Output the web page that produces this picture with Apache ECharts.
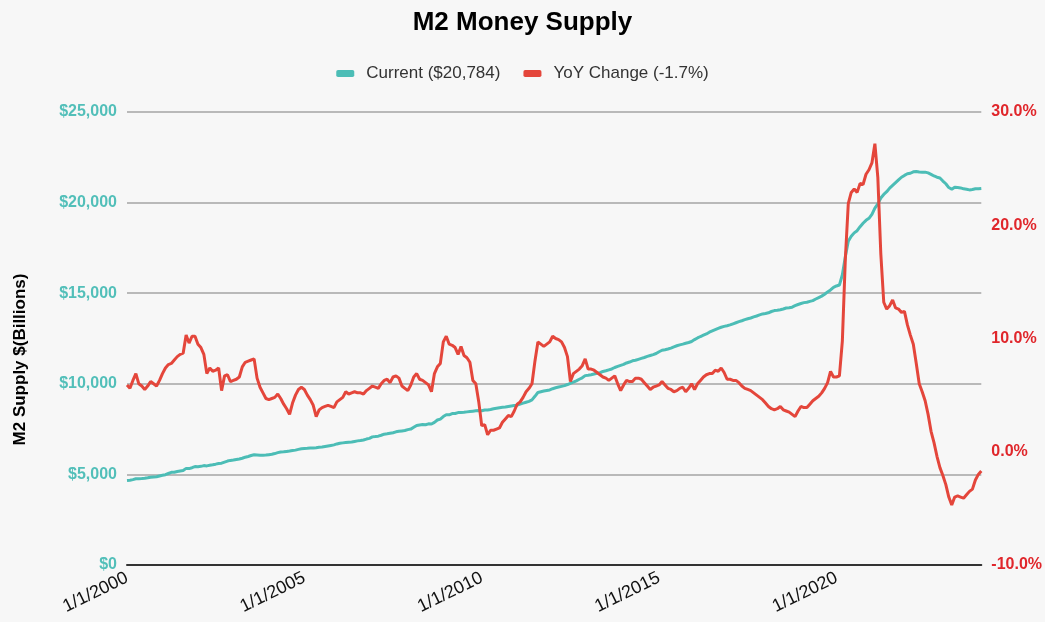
<!DOCTYPE html>
<html>
<head>
<meta charset="utf-8">
<script src="https://cdn.jsdelivr.net/npm/echarts@6/dist/echarts.min.js"></script>
<style>
html,body{margin:0;padding:0;background:#f7f7f7;}
#chart{width:1045px;height:622px;}
</style>
</head>
<body>
<div id="chart"></div>
<script>
// Monthly, Jan 2000 .. Feb 2024
const startYear = 2000;
const pointCount = 290;
const xTickLabels = ["1/1/2000","1/1/2005","1/1/2010","1/1/2015","1/1/2020"];

// M2 money supply, $ billions
const m2Supply = [
  4667,4681,4711,4760,4755,4769,4787,4814,4844,4861,4872,4914,
  4950,4985,5049,5113,5121,5163,5192,5220,5332,5322,5370,5433,
  5425,5445,5485,5470,5500,5530,5565,5605,5620,5680,5735,5772,
  5790,5820,5850,5890,5950,5990,6040,6080,6070,6060,6060,6067,
  6090,6110,6150,6200,6240,6250,6270,6290,6320,6340,6380,6418,
  6430,6440,6460,6460,6470,6500,6510,6540,6570,6600,6630,6681,
  6720,6740,6760,6780,6790,6820,6850,6870,6900,6950,6990,7071,
  7090,7110,7160,7220,7240,7270,7300,7350,7380,7400,7420,7471,
  7500,7600,7700,7730,7750,7740,7790,7780,7870,8000,8050,8192,
  8290,8290,8360,8360,8410,8420,8430,8450,8470,8490,8510,8520,
  8510,8550,8560,8580,8620,8650,8680,8700,8720,8750,8780,8801,
  8820,8880,8930,8980,9030,9110,9310,9520,9560,9600,9630,9660,
  9730,9780,9820,9860,9900,9960,10030,10090,10160,10250,10330,10451,
  10470,10500,10540,10580,10610,10680,10720,10770,10820,10900,10960,11019,
  11070,11150,11200,11270,11300,11350,11400,11450,11510,11560,11610,11671,
  11770,11850,11880,11920,11970,12040,12100,12150,12190,12240,12280,12336,
  12440,12530,12610,12680,12750,12850,12920,12990,13060,13120,13170,13207,
  13250,13310,13370,13430,13480,13540,13590,13630,13690,13740,13800,13856,
  13880,13920,13990,14040,14060,14090,14130,14180,14200,14230,14310,14377,
  14430,14480,14500,14550,14590,14680,14760,14840,14940,15070,15180,15327,
  15400,15450,16020,17010,17870,18140,18330,18450,18670,18860,19020,19130,
  19350,19700,19930,20250,20450,20600,20800,20950,21100,21250,21400,21500,
  21590,21620,21700,21720,21690,21680,21680,21640,21560,21470,21400,21360,
  21190,21040,20830,20740,20850,20830,20810,20760,20740,20700,20720,20760,
  20770,20784
];

// Year-over-year change, %
const yoyChange = [
  5.9,5.6,6.3,6.9,6.0,5.8,5.5,5.8,6.2,6.0,5.8,6.3,
  6.9,7.4,7.7,7.8,8.1,8.4,8.6,8.7,10.3,9.6,10.2,10.2,
  9.5,9.2,8.6,6.9,7.4,7.1,7.2,7.4,5.4,6.7,6.8,6.2,
  6.3,6.4,6.6,7.5,7.9,8.0,8.1,8.2,6.5,5.7,5.2,4.7,
  4.6,4.7,4.8,5.1,4.7,4.2,3.8,3.3,4.3,5.0,5.5,5.7,
  5.5,5.0,4.6,4.1,3.1,3.7,3.9,4.0,4.1,4.0,3.9,4.4,
  4.6,4.8,5.3,5.1,5.2,5.3,5.2,5.2,5.1,5.4,5.6,5.8,
  5.7,5.6,6.0,6.3,6.4,6.1,6.6,6.7,6.5,5.8,5.6,5.4,
  5.9,6.6,6.9,6.4,6.3,6.1,5.9,5.3,6.9,7.5,7.8,9.7,
  10.2,9.5,9.4,9.2,8.6,9.3,8.5,8.3,7.9,6.3,6.0,4.4,
  2.3,2.4,1.5,1.9,1.9,2.0,2.1,2.6,2.9,3.2,3.1,3.6,
  4.2,4.4,4.8,5.3,5.6,6.0,8.0,9.7,9.5,9.3,9.5,9.7,
  10.2,10.0,9.9,9.7,9.2,8.4,6.2,6.9,7.1,7.3,7.6,8.2,
  7.3,7.3,7.2,7.0,6.8,6.6,6.5,6.3,6.5,6.7,6.0,5.4,
  5.9,6.3,6.2,6.2,6.5,6.5,6.4,6.1,5.8,5.5,5.7,5.8,
  5.9,6.2,5.9,5.6,5.5,5.3,5.4,5.6,5.7,5.3,5.6,6.0,
  5.5,6.0,6.3,6.6,6.8,6.9,6.9,7.2,7.1,7.4,7.0,6.4,
  6.4,6.3,6.3,6.1,5.8,5.6,5.5,5.4,5.2,5.0,4.8,4.6,
  4.3,4.0,3.8,3.7,3.8,4.0,3.7,3.6,3.5,3.3,3.1,3.6,
  4.0,3.9,3.9,4.2,4.5,4.7,4.9,5.2,5.6,6.1,7.1,6.6,
  6.6,6.7,9.8,17.0,21.9,22.9,23.2,22.9,23.7,23.6,24.5,24.9,
  25.5,27.2,24.2,17.5,13.2,12.6,12.9,13.4,12.7,12.6,12.3,12.4,
  11.2,10.3,9.5,7.8,6.0,5.3,4.5,3.3,1.8,0.8,-0.4,-1.4,
  -2.1,-2.9,-4.0,-4.7,-4.0,-3.9,-4.0,-4.1,-3.8,-3.5,-3.3,-2.5,
  -2.0,-1.7
];

const months = [];
for (let i = 0; i < pointCount; i++) {
  const y = startYear + Math.floor(i / 12);
  const m = (i % 12) + 1;
  months.push(m + '/1/' + y);
}

function fmtMoney(v) {
  return '$' + String(Math.round(v)).replace(/\B(?=(\d{3})+(?!\d))/g, ',');
}

const FONT = 'Liberation Sans, Arial, sans-serif';
const TEAL = '#4cbdb6';
const RED = '#e4463b';
const lastM2 = m2Supply[m2Supply.length - 1];
const lastYoy = yoyChange[yoyChange.length - 1];
const nameCurrent = 'Current (' + fmtMoney(lastM2) + ')';
const nameYoy = 'YoY Change (' + lastYoy.toFixed(1) + '%)';

const chart = echarts.init(document.getElementById('chart'), null, {renderer: 'canvas'});
chart.setOption({
  backgroundColor: '#f7f7f7',
  animation: false,
  title: {
    text: 'M2 Money Supply',
    left: 'center',
    top: 5,
    textStyle: {fontFamily: FONT, fontSize: 26, fontWeight: 'bold', color: '#000'}
  },
  legend: {
    top: 60,
    left: 'center',
    itemWidth: 18,
    itemHeight: 7,
    itemGap: 23,
    icon: 'roundRect',
    textStyle: {fontFamily: FONT, fontSize: 17, color: '#333', padding: [0, 0, 0, 7]},
    data: [nameCurrent, nameYoy]
  },
  grid: {left: 127, right: 62, top: 112, bottom: 57, containLabel: false},
  xAxis: {
    type: 'category',
    data: months,
    boundaryGap: false,
    axisLine: {show: true, lineStyle: {color: '#333', width: 2}},
    axisTick: {show: false},
    axisLabel: {
      interval: 59,
      rotate: 26,
      margin: 12,
      fontFamily: FONT,
      fontSize: 18,
      color: '#111'
    },
    splitLine: {show: false}
  },
  yAxis: [
    {
      type: 'value',
      min: 0, max: 25000, interval: 5000,
      name: 'M2 Supply $(Billions)',
      nameLocation: 'middle',
      nameGap: 98,
      nameRotate: 90,
      nameTextStyle: {fontFamily: FONT, fontSize: 17, fontWeight: 'bold', color: '#000', padding: [0, 42, 0, 0]},
      axisLine: {show: false},
      axisTick: {show: false},
      axisLabel: {
        margin: 10,
        formatter: fmtMoney,
        fontFamily: FONT,
        fontSize: 16, fontWeight: 'bold', color: '#52bfb9'
      },
      splitLine: {show: true, lineStyle: {color: '#a5a5a5', width: 1.5}}
    },
    {
      type: 'value',
      min: -10, max: 30, interval: 10,
      position: 'right',
      axisLine: {show: false},
      axisTick: {show: false},
      axisLabel: {
        margin: 10,
        formatter: function (v) { return v.toFixed(1) + '%'; },
        fontFamily: FONT,
        fontSize: 16, fontWeight: 'bold', color: '#e0262b'
      },
      splitLine: {show: false}
    }
  ],
  series: [
    {
      name: nameCurrent,
      type: 'line',
      data: m2Supply,
      yAxisIndex: 0,
      showSymbol: false,
      symbol: 'none',
      color: TEAL,
      lineStyle: {color: TEAL, width: 3}
    },
    {
      name: nameYoy,
      type: 'line',
      data: yoyChange,
      yAxisIndex: 1,
      showSymbol: false,
      symbol: 'none',
      color: RED,
      lineStyle: {color: RED, width: 3}
    }
  ]
});
</script>
</body>
</html>
